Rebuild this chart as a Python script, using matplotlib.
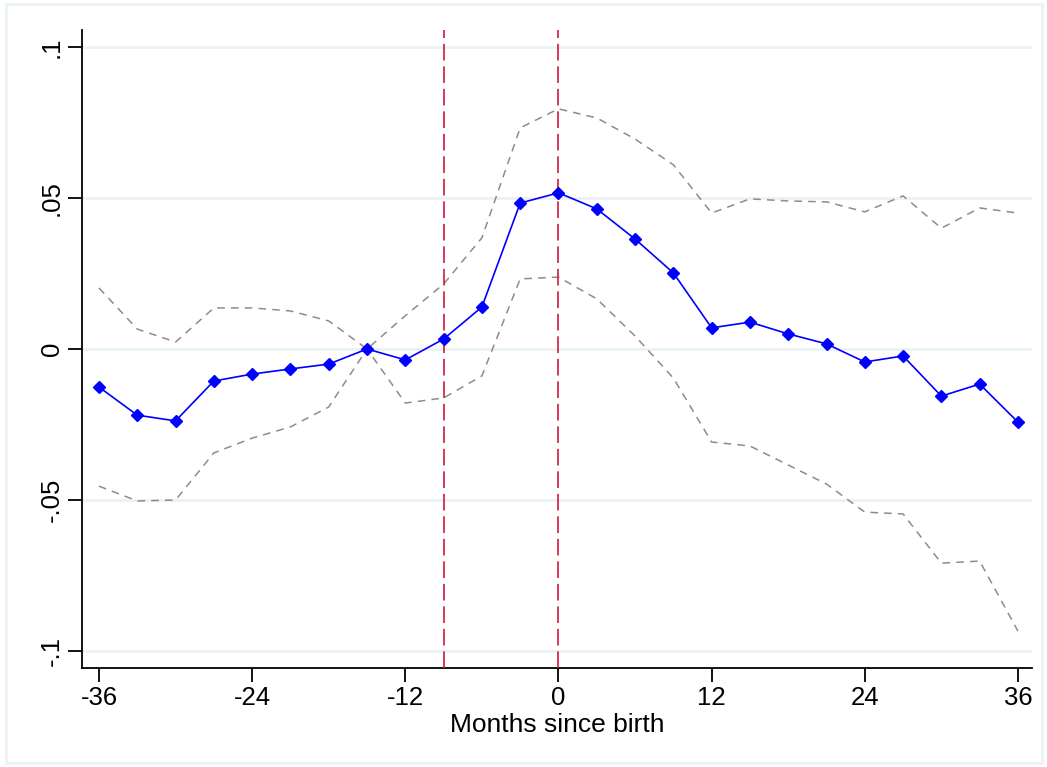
import matplotlib
matplotlib.use("Agg")
import matplotlib.pyplot as plt
from matplotlib.patches import Rectangle

months = [-36, -33, -30, -27, -24, -21, -18, -15, -12, -9, -6, -3, 0,
          3, 6, 9, 12, 15, 18, 21, 24, 27, 30, 33, 36]
coef = [-0.0126, -0.0219, -0.0238, -0.0106, -0.0083, -0.0066, -0.0050, 0.0, -0.0036,
        0.0033, 0.0139, 0.0483, 0.0517, 0.0464, 0.0364, 0.0252, 0.0070, 0.0089,
        0.0050, 0.0017, -0.0043, -0.0023, -0.0156, -0.0116, -0.0242]
ci_upper = [0.0202, 0.0066, 0.0023, 0.0136, 0.0136, 0.0126, 0.0093, 0.0, 0.0110,
            0.0215, 0.0368, 0.0732, 0.0795, 0.0765, 0.0695, 0.0610, 0.0450, 0.0497,
            0.0490, 0.0487, 0.0454, 0.0507, 0.0400, 0.0467, 0.0450]
ci_lower = [-0.0454, -0.0503, -0.0500, -0.0344, -0.0295, -0.0258, -0.0192, 0.0, -0.0179,
            -0.0162, -0.0089, 0.0232, 0.0238, 0.0166, 0.0043, -0.0096, -0.0308, -0.0321,
            -0.0384, -0.0447, -0.0540, -0.0546, -0.0709, -0.0702, -0.0934]
vlines = [-9, 0]
xticks = [-36, -24, -12, 0, 12, 24, 36]
yticks = [-0.1, -0.05, 0, 0.05, 0.1]
ytick_labels = ["-.1", "-.05", "0", ".05", ".1"]
xlabel = "Months since birth"

plt.rcParams['font.family'] = ['Liberation Sans', 'DejaVu Sans']

fig = plt.figure(figsize=(10.47, 7.67), dpi=100)
fig.patches.append(Rectangle((6/1047, 4/767), (1042-6)/1047, (763-4)/767,
                             transform=fig.transFigure, fill=False,
                             edgecolor='#eaf2f3', linewidth=2))
ax = fig.add_axes([82/1047, 1 - 668/767, (1032-82)/1047, (668-30)/767])

ax.set_xlim(-37.33, 37.1)
ax.set_ylim(-0.1056, 0.1056)

for y in yticks:
    ax.axhline(y, color='#eaf2f3', linewidth=2, zorder=0)

ax.plot(months, ci_upper, color='#8c8c8c', linestyle=(0, (5, 4)), linewidth=1.1, zorder=2)
ax.plot(months, ci_lower, color='#8c8c8c', linestyle=(0, (5, 4)), linewidth=1.1, zorder=2)
for v in vlines:
    ax.axvline(v, color='#d4163c', linestyle=(0, (10, 3.5)), linewidth=1.2, zorder=3)
ax.plot(months, coef, color='#0000ff', linewidth=1.2, marker='D', markersize=5.8,
        markerfacecolor='#0000ff', markeredgecolor='#0000ff', zorder=4)

ax.spines['top'].set_visible(False)
ax.spines['right'].set_visible(False)
ax.spines['left'].set_linewidth(1.3)
ax.spines['bottom'].set_linewidth(1.3)

ax.set_xticks(xticks)
ax.set_xticklabels([str(t) for t in xticks])
ax.set_yticks(yticks)
ax.set_yticklabels(ytick_labels, rotation=90, va='center')
ax.tick_params(axis='both', length=10, width=1.3, labelsize=18.5, pad=3)
ax.set_xlabel(xlabel, fontsize=19, labelpad=2)

fig.savefig("out.png", dpi=100)
